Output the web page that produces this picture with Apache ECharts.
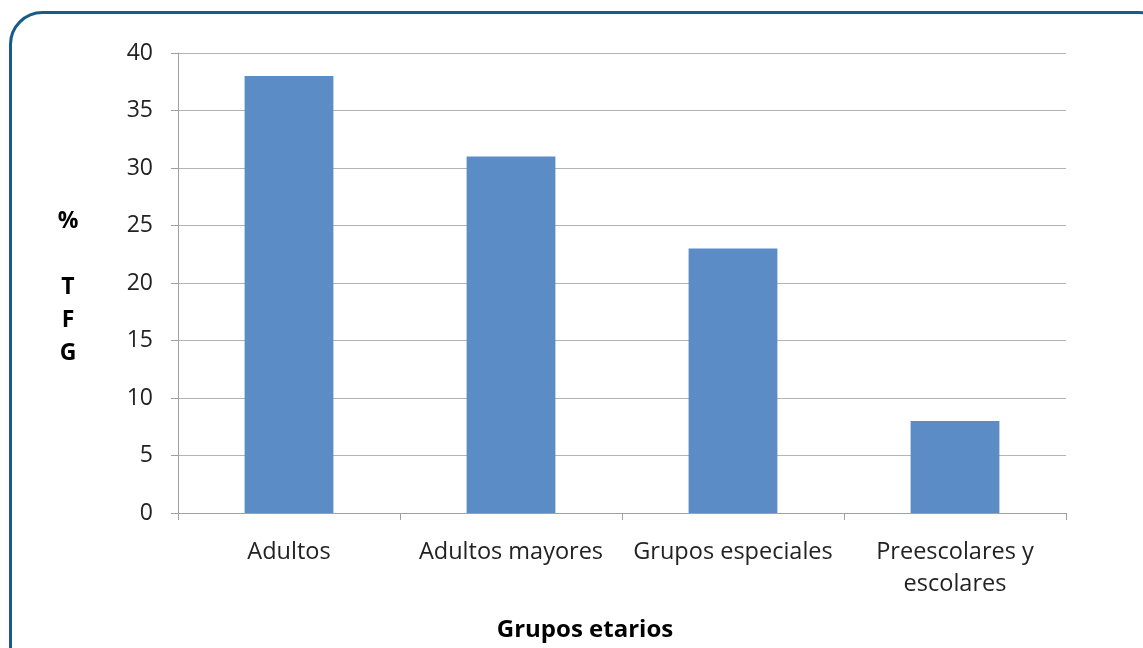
<!DOCTYPE html>
<html><head><meta charset="utf-8">
<script src="https://cdn.jsdelivr.net/npm/echarts@6/dist/echarts.min.js"></script>
<style>html,body{margin:0;padding:0;background:#fff}#c{width:1143px;height:648px}</style>
</head><body><div id="c"></div>
<script>
const categories = ['Adultos', 'Adultos mayores', 'Grupos especiales', 'Preescolares y\nescolares'];
const values = [38, 31, 23, 8];
const yTicks = [0, 5, 10, 15, 20, 25, 30, 35, 40];

const chart = echarts.init(document.getElementById('c'));
const font = '"Open Sans", "Noto Sans", sans-serif';
chart.setOption({
  animation: false,
  backgroundColor: '#fff',
  grid: { left: 178, right: 77, top: 53, bottom: 135, containLabel: false },
  xAxis: {
    type: 'category',
    data: categories,
    axisLine: { lineStyle: { color: '#a0a0a0', width: 1 } },
    axisTick: { show: true, alignWithLabel: false, length: 7, lineStyle: { color: '#a0a0a0' } },
    axisLabel: { color: '#222', fontSize: 23.5, fontFamily: font, margin: 23, lineHeight: 32, interval: 0 },
  },
  yAxis: {
    type: 'value',
    min: yTicks[0], max: yTicks[yTicks.length - 1], interval: 5,
    axisLine: { show: true, lineStyle: { color: '#a0a0a0', width: 1 } },
    axisTick: { show: true, length: 7, lineStyle: { color: '#a0a0a0' } },
    axisLabel: { color: '#222', fontSize: 23, fontFamily: font, margin: 25 },
    splitLine: { lineStyle: { color: '#b4b4b4', width: 1 } }
  },
  series: [{
    type: 'bar',
    data: values,
    barWidth: '40%',
    itemStyle: { color: '#5B8CC5' }
  }],
  graphic: [
    {
      type: 'rect', silent: true, z: 100,
      shape: { x: 10.5, y: 12.5, width: 1160, height: 720, r: 32 },
      style: { fill: 'none', stroke: '#195C8A', lineWidth: 3 }
    },
    {
      type: 'text', silent: true,
      style: {
        x: 68, y: 205, text: '%\n\nT\nF\nG', textAlign: 'center',
        fontSize: 23, fontWeight: 'bold', fontFamily: font, fill: '#000', lineHeight: 33
      }
    },
    {
      type: 'text', silent: true,
      style: {
        x: 585, y: 630, text: 'Grupos etarios', textAlign: 'center', textVerticalAlign: 'middle',
        fontSize: 24, fontWeight: 'bold', fontFamily: font, fill: '#000'
      }
    }
  ]
});
</script></body></html>
